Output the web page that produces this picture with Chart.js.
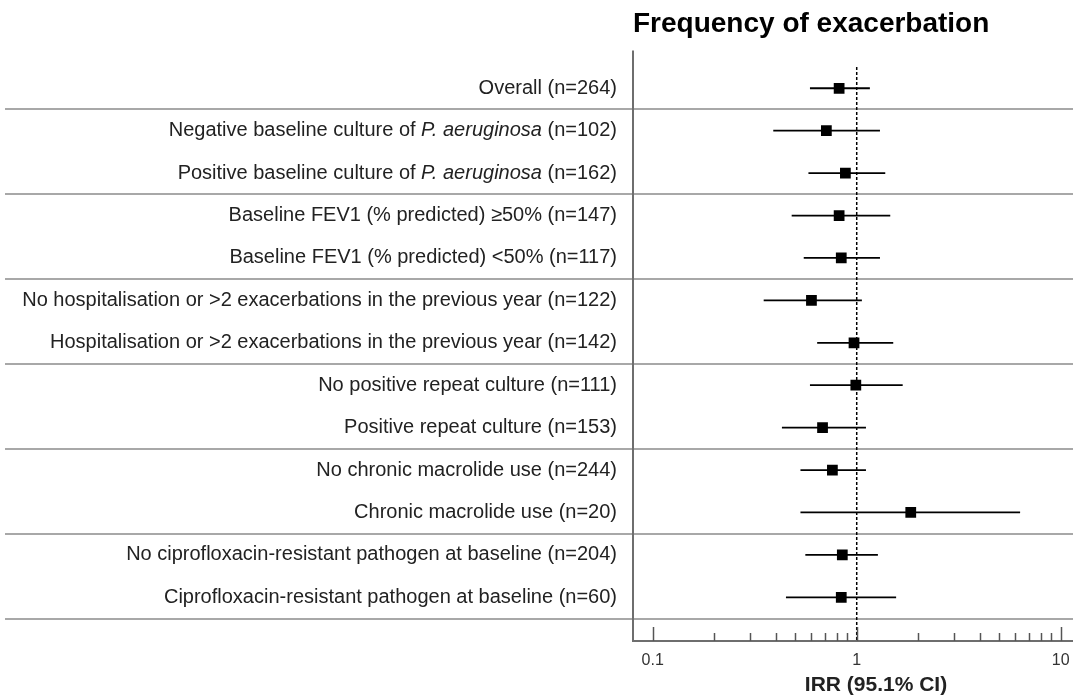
<!DOCTYPE html>
<html>
<head>
<meta charset="utf-8">
<script src="https://cdn.jsdelivr.net/npm/chart.js@4"></script>
<style>
  html, body { margin: 0; padding: 0; background: #fff; }
</style>
</head>
<body>
<canvas id="forest" width="1073" height="695"></canvas>
<script>
// subgroups, top to bottom; *...* marks italic text
const subgroups = [
  'Overall (n=264)',
  'Negative baseline culture of *P. aeruginosa* (n=102)',
  'Positive baseline culture of *P. aeruginosa* (n=162)',
  'Baseline FEV1 (% predicted) \u226550% (n=147)',
  'Baseline FEV1 (% predicted) <50% (n=117)',
  'No hospitalisation or >2 exacerbations in the previous year (n=122)',
  'Hospitalisation or >2 exacerbations in the previous year (n=142)',
  'No positive repeat culture (n=111)',
  'Positive repeat culture (n=153)',
  'No chronic macrolide use (n=244)',
  'Chronic macrolide use (n=20)',
  'No ciprofloxacin-resistant pathogen at baseline (n=204)',
  'Ciprofloxacin-resistant pathogen at baseline (n=60)'
];
const irr    = [0.82, 0.71, 0.88, 0.82, 0.84, 0.60, 0.97, 0.99, 0.68, 0.76, 1.84, 0.85, 0.84];
const ciLow  = [0.59, 0.39, 0.58, 0.48, 0.55, 0.35, 0.64, 0.59, 0.43, 0.53, 0.53, 0.56, 0.45];
const ciHigh = [1.16, 1.30, 1.38, 1.46, 1.30, 1.06, 1.51, 1.68, 1.11, 1.11, 6.32, 1.27, 1.56];
const groupBreaks = [0.5, 2.5, 4.5, 6.5, 8.5, 10.5, 12.5];
const tickValues = [0.1, 0.2, 0.3, 0.4, 0.5, 0.6, 0.7, 0.8, 0.9, 1, 2, 3, 4, 5, 6, 7, 8, 9, 10];
const majorTicks = [0.1, 1, 10];
const xTitle = 'IRR (95.1% CI)';

const FONT = '"Liberation Sans", Arial, sans-serif';

const ciDatasets = subgroups.map((s, i) => ({
  type: 'scatter',
  showLine: true,
  data: [{ x: ciLow[i], y: i }, { x: ciHigh[i], y: i }],
  borderColor: '#000',
  borderWidth: 1.8,
  pointRadius: 0,
  order: 1
}));

const decor = {
  id: 'decor',
  beforeDatasetsDraw(chart) {
    const ctx = chart.ctx, y = chart.scales.y, area = chart.chartArea;
    ctx.save();
    ctx.strokeStyle = '#a8a8a8';
    ctx.lineWidth = 2;
    groupBreaks.forEach(b => {
      const py = Math.round(y.getPixelForValue(b));
      ctx.beginPath();
      ctx.moveTo(5, py);
      ctx.lineTo(chart.width, py);
      ctx.stroke();
    });
    // left axis line
    ctx.strokeStyle = '#6e6e6e';
    ctx.beginPath();
    ctx.moveTo(area.left, area.top);
    ctx.lineTo(area.left, area.bottom);
    ctx.stroke();
    ctx.restore();
  },
  afterDraw(chart) {
    const ctx = chart.ctx, x = chart.scales.x, y = chart.scales.y, area = chart.chartArea;
    ctx.save();
    // inward tick marks
    ctx.strokeStyle = '#555';
    ctx.lineWidth = 1.5;
    tickValues.forEach(v => {
      const px = Math.round(x.getPixelForValue(v)) + 0.5;
      const len = majorTicks.includes(v) ? 14 : 8;
      ctx.beginPath();
      ctx.moveTo(px, area.bottom);
      ctx.lineTo(px, area.bottom - len);
      ctx.stroke();
    });
    // subgroup labels, right aligned, with italic parts
    ctx.fillStyle = '#222';
    ctx.textBaseline = 'middle';
    ctx.textAlign = 'left';
    subgroups.forEach((label, i) => {
      const parts = label.split('*').map((t, k) => ({ t, font: (k % 2 ? 'italic ' : '') + '20px ' + FONT }));
      let total = 0;
      parts.forEach(p => { ctx.font = p.font; p.w = ctx.measureText(p.t).width; total += p.w; });
      let px = area.left - 16 - total;
      const py = y.getPixelForValue(i);
      parts.forEach(p => { ctx.font = p.font; ctx.fillText(p.t, px, py); px += p.w; });
    });
    // x axis title
    ctx.fillStyle = '#222';
    ctx.font = 'bold 21px ' + FONT;
    ctx.textAlign = 'center';
    ctx.fillText(xTitle, 876, 685);
    ctx.restore();
  }
};

new Chart(document.getElementById('forest'), {
  type: 'scatter',
  data: {
    datasets: [
      {
        data: irr.map((v, i) => ({ x: v, y: i })),
        pointStyle: 'rect',
        pointRadius: 7.6,
        backgroundColor: '#000',
        borderWidth: 0,
        order: 0
      },
      ...ciDatasets,
      {
        showLine: true,
        data: [{ x: 1, y: -0.5 }, { x: 1, y: 13.03 }],
        borderColor: '#000',
        borderWidth: 1.5,
        borderDash: [3, 2],
        pointRadius: 0,
        order: 2
      }
    ]
  },
  options: {
    responsive: false,
    animation: false,
    layout: { autoPadding: false, padding: { left: 633, right: 0, top: 0, bottom: 0 } },
    plugins: {
      legend: { display: false },
      tooltip: { enabled: false },
      title: {
        display: true,
        text: 'Frequency of exacerbation',
        align: 'start',
        color: '#000',
        font: { family: FONT, size: 28, weight: 'bold' },
        padding: { top: 7, bottom: 10 }
      }
    },
    scales: {
      x: {
        type: 'logarithmic',
        min: 0.0801,
        max: 11.48,
        afterBuildTicks: s => { s.ticks = tickValues.map(v => ({ value: v, major: majorTicks.includes(v) })); },
        afterFit: s => { s.height = 54; s.paddingLeft = 0; s.paddingRight = 0; },
        grid: { display: false, drawTicks: false },
        border: { display: true, color: '#6e6e6e', width: 2 },
        ticks: {
          autoSkip: false,
          maxRotation: 0,
          padding: 10,
          color: '#333',
          font: { family: FONT, size: 16 },
          callback: v => majorTicks.includes(v) ? String(v) : ''
        }
      },
      y: { type: 'linear', display: false, reverse: true, min: -0.888, max: 13.03 }
    }
  },
  plugins: [decor]
});
</script>
</body>
</html>
